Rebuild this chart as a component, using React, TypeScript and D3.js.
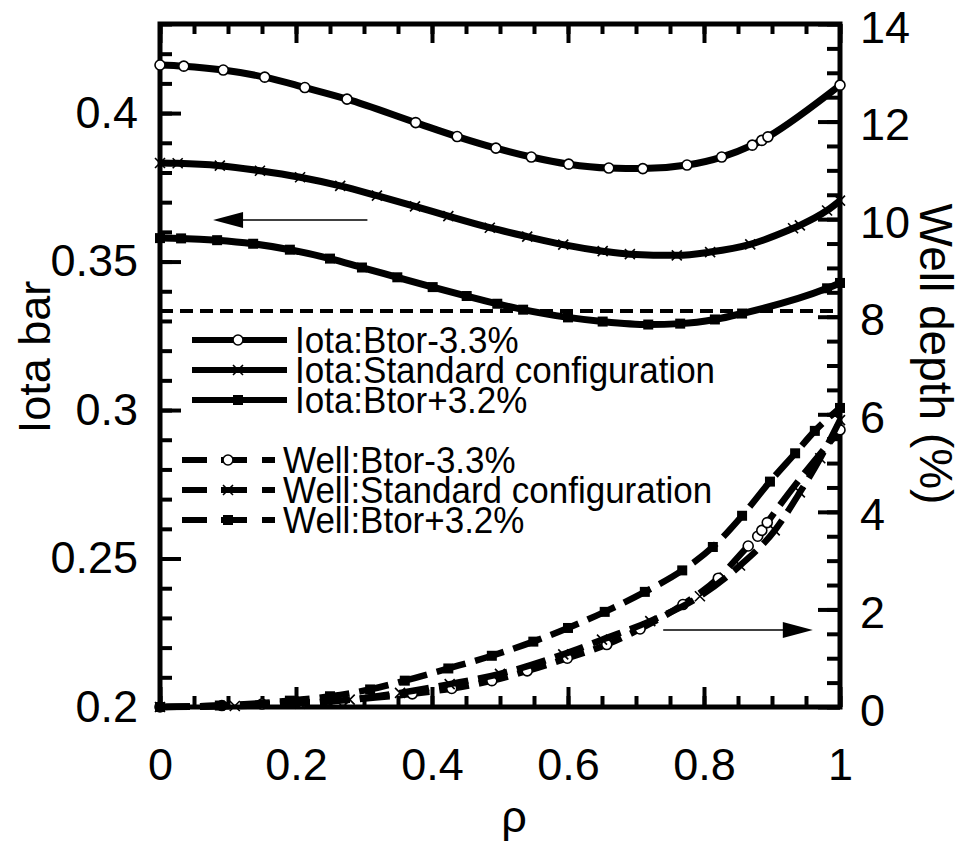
import React, { useEffect, useRef } from "react";
import * as d3 from "d3";

// ---- data ----
// iota (left axis)
const iotaMinusRho = [0, 0.035, 0.093, 0.154, 0.213, 0.275, 0.376, 0.437, 0.494, 0.546, 0.601, 0.66, 0.71, 0.775, 0.826, 0.871, 0.885, 0.894, 1.0];
const iotaMinusVal = [0.4162, 0.4158, 0.4145, 0.4121, 0.4086, 0.4047, 0.3968, 0.3921, 0.3882, 0.3852, 0.3828, 0.3815, 0.3813, 0.3825, 0.3852, 0.3892, 0.3908, 0.392, 0.4094];

const iotaStdRho = [0, 0.026, 0.088, 0.147, 0.206, 0.265, 0.319, 0.375, 0.424, 0.485, 0.54, 0.593, 0.651, 0.691, 0.76, 0.809, 0.868, 0.931, 0.941, 0.981, 1.0];
const iotaStdVal = [0.3832, 0.3831, 0.3823, 0.3806, 0.3784, 0.3755, 0.3722, 0.3686, 0.3653, 0.3614, 0.3584, 0.3557, 0.3535, 0.3525, 0.3521, 0.3532, 0.3558, 0.3612, 0.3622, 0.3672, 0.3705];

const iotaPlusRho = [0, 0.031, 0.084, 0.137, 0.191, 0.25, 0.297, 0.349, 0.401, 0.451, 0.496, 0.534, 0.6, 0.651, 0.718, 0.765, 0.816, 0.856, 0.981, 1.0];
const iotaPlusVal = [0.3579, 0.3578, 0.3572, 0.356, 0.354, 0.351, 0.348, 0.3447, 0.3414, 0.3384, 0.3358, 0.3338, 0.3312, 0.3298, 0.3288, 0.3291, 0.3305, 0.3325, 0.341, 0.3428];

// well depth % (right axis)
const wellMinusRho = [0, 0.091, 0.15, 0.209, 0.269, 0.371, 0.429, 0.488, 0.54, 0.599, 0.657, 0.706, 0.769, 0.821, 0.865, 0.879, 0.885, 0.893, 1.0];
const wellMinusVal = [0, 0.03, 0.06, 0.09, 0.14, 0.27, 0.38, 0.54, 0.74, 1.0, 1.28, 1.6, 2.1, 2.64, 3.3, 3.5, 3.62, 3.78, 5.68];

const wellStdRho = [0, 0.11, 0.206, 0.279, 0.353, 0.426, 0.5, 0.593, 0.65, 0.721, 0.794, 0.853, 0.904, 0.941, 0.971, 1.0];
const wellStdVal = [0, 0.02, 0.07, 0.15, 0.29, 0.47, 0.68, 1.08, 1.38, 1.76, 2.27, 2.9, 3.62, 4.4, 5.1, 5.88];

const wellPlusRho = [0, 0.088, 0.191, 0.25, 0.309, 0.36, 0.424, 0.488, 0.549, 0.6, 0.654, 0.713, 0.768, 0.813, 0.856, 0.897, 0.934, 0.963, 1.0];
const wellPlusVal = [0, 0.03, 0.13, 0.22, 0.36, 0.54, 0.79, 1.05, 1.34, 1.62, 1.95, 2.36, 2.8, 3.28, 3.92, 4.62, 5.2, 5.66, 6.13];

const rationalIota = 1 / 3;

const xTicks = [0, 0.2, 0.4, 0.6, 0.8, 1];
const leftTicks = [0.2, 0.25, 0.3, 0.35, 0.4];
const rightTicks = [0, 2, 4, 6, 8, 10, 12, 14];

const iotaLabels = ["Iota:Btor-3.3%", "Iota:Standard configuration", "Iota:Btor+3.2%"];
const wellLabels = ["Well:Btor-3.3%", "Well:Standard configuration", "Well:Btor+3.2%"];
const markerKinds = ["circle", "cross", "square"];

const FONT = "'Liberation Sans', Arial, Helvetica, sans-serif";

type Pt = [number, number];
const zip = (a: number[], b: number[]): Pt[] => a.map((v, i) => [v, b[i]]);

const App: React.FC = () => {
  const svgRef = useRef<SVGSVGElement | null>(null);

  useEffect(() => {
    if (!svgRef.current) return;
    const width = 963;
    const height = 848;
    const plot = { left: 160, right: 840, top: 24, bottom: 707 };

    const svg = d3.select(svgRef.current).attr("viewBox", `0 0 ${width} ${height}`);
    svg.selectAll("*").remove();

    const x = d3.scaleLinear().domain([0, 1]).range([plot.left, plot.right]);
    const yL = d3.scaleLinear().domain([0.2, 0.43]).range([plot.bottom, plot.top]);
    const yR = d3.scaleLinear().domain([0, 14]).range([plot.bottom, plot.top]);

    const g = svg.append("g");

    // ticks (inward) via d3 axes
    const styleAxis = (sel: d3.Selection<SVGGElement, unknown, null, undefined>) => {
      sel.select(".domain").remove();
      sel.selectAll("line").attr("stroke", "#000").attr("stroke-width", 4);
      sel.selectAll("text").attr("fill", "#000").style("font-family", FONT).style("font-size", "45px");
    };

    const minorX = d3.range(0, 1.0001, 0.05);
    const minorL = d3.range(0.2, 0.4301, 0.01);
    const minorR = d3.range(0, 14.001, 0.5);

    g.append("g").attr("transform", `translate(0,${plot.bottom})`)
      .call(d3.axisBottom(x).tickValues(minorX).tickSizeInner(-11).tickSizeOuter(0).tickFormat(() => ""))
      .call(styleAxis);
    g.append("g").attr("transform", `translate(0,${plot.bottom})`)
      .call(d3.axisBottom(x).tickValues(xTicks).tickSizeInner(-20).tickSizeOuter(0).tickPadding(41).tickFormat((d) => String(d)))
      .call(styleAxis);
    g.append("g").attr("transform", `translate(0,${plot.top})`)
      .call(d3.axisTop(x).tickValues(minorX).tickSizeInner(-10).tickSizeOuter(0).tickFormat(() => ""))
      .call(styleAxis);
    g.append("g").attr("transform", `translate(0,${plot.top})`)
      .call(d3.axisTop(x).tickValues(xTicks).tickSizeInner(-19).tickSizeOuter(0).tickFormat(() => ""))
      .call(styleAxis);

    g.append("g").attr("transform", `translate(${plot.left},0)`)
      .call(d3.axisLeft(yL).tickValues(minorL).tickSizeInner(-12).tickSizeOuter(0).tickFormat(() => ""))
      .call(styleAxis);
    g.append("g").attr("transform", `translate(${plot.left},0)`)
      .call(d3.axisLeft(yL).tickValues(leftTicks).tickSizeInner(-21).tickSizeOuter(0).tickPadding(22).tickFormat((d) => String(d)))
      .call(styleAxis);

    g.append("g").attr("transform", `translate(${plot.right},0)`)
      .call(d3.axisRight(yR).tickValues(minorR).tickSizeInner(-13).tickSizeOuter(0).tickFormat(() => ""))
      .call(styleAxis);
    g.append("g").attr("transform", `translate(${plot.right},0)`)
      .call(d3.axisRight(yR).tickValues(rightTicks).tickSizeInner(-22).tickSizeOuter(0).tickPadding(20).tickFormat((d) => String(d)))
      .call(styleAxis)
      .call((sel) => sel.selectAll("text").attr("dy", "0.4em"));

    // frame
    g.append("rect")
      .attr("x", plot.left).attr("y", plot.top)
      .attr("width", plot.right - plot.left).attr("height", plot.bottom - plot.top)
      .attr("fill", "none").attr("stroke", "#000").attr("stroke-width", 5);

    // iota = 1/3 reference
    g.append("line")
      .attr("x1", x(0)).attr("x2", x(1))
      .attr("y1", yL(rationalIota)).attr("y2", yL(rationalIota))
      .attr("stroke", "#000").attr("stroke-width", 4).attr("stroke-dasharray", "13 7");

    const drawMarker = (sel: d3.Selection<SVGGElement, unknown, null, undefined>, kind: string, cx: number, cy: number) => {
      if (kind === "circle") {
        sel.append("circle").attr("cx", cx).attr("cy", cy).attr("r", 5)
          .attr("fill", "#fff").attr("stroke", "#000").attr("stroke-width", 1.6);
      } else if (kind === "square") {
        sel.append("rect").attr("x", cx - 5).attr("y", cy - 5).attr("width", 10).attr("height", 10).attr("fill", "#000");
      } else {
        const s = 5;
        sel.append("path")
          .attr("d", `M${cx - s},${cy - s}L${cx + s},${cy + s}M${cx - s},${cy + s}L${cx + s},${cy - s}`)
          .attr("stroke", "#000").attr("stroke-width", 1.6);
      }
    };

    const iotaSeries = [zip(iotaMinusRho, iotaMinusVal), zip(iotaStdRho, iotaStdVal), zip(iotaPlusRho, iotaPlusVal)];
    const wellSeries = [zip(wellMinusRho, wellMinusVal), zip(wellStdRho, wellStdVal), zip(wellPlusRho, wellPlusVal)];

    const lineL = d3.line<Pt>().x((d) => x(d[0])).y((d) => yL(d[1])).curve(d3.curveMonotoneX);
    const lineR = d3.line<Pt>().x((d) => x(d[0])).y((d) => yR(d[1])).curve(d3.curveMonotoneX);

    wellSeries.forEach((pts, i) => {
      g.append("path").datum(pts).attr("d", lineR)
        .attr("fill", "none").attr("stroke", "#000").attr("stroke-width", 6.5)
        .attr("stroke-dasharray", "30 10");
      const mg = g.append("g");
      pts.forEach((p) => drawMarker(mg, markerKinds[i], x(p[0]), yR(p[1])));
    });

    iotaSeries.forEach((pts, i) => {
      g.append("path").datum(pts).attr("d", lineL)
        .attr("fill", "none").attr("stroke", "#000").attr("stroke-width", 7);
      const mg = g.append("g");
      pts.forEach((p) => drawMarker(mg, markerKinds[i], x(p[0]), yL(p[1])));
    });

    // arrows
    const arrow = (x1: number, x2: number, yy: number) => {
      const dir = Math.sign(x2 - x1);
      g.append("line").attr("x1", x1).attr("x2", x2 - dir * 20).attr("y1", yy).attr("y2", yy)
        .attr("stroke", "#000").attr("stroke-width", 1.5);
      g.append("path")
        .attr("d", `M${x2},${yy}L${x2 - dir * 30},${yy - 8}L${x2 - dir * 30},${yy + 8}Z`)
        .attr("fill", "#000");
    };
    arrow(x(0.305), x(0.078), yL(0.364));
    arrow(x(0.74), x(0.96), yR(1.58));

    // legend
    const leg = svg.append("g").style("font-family", FONT).style("font-size", "35px");
    iotaLabels.forEach((lab, i) => {
      const base = 353 + i * 30;
      const cy = base - 13;
      leg.append("line").attr("x1", 192).attr("x2", 287).attr("y1", cy).attr("y2", cy)
        .attr("stroke", "#000").attr("stroke-width", 6);
      drawMarker(leg, markerKinds[i], 238, cy);
      leg.append("text").attr("transform", `translate(295,${base}) scale(1,1.08)`).text(lab);
    });
    wellLabels.forEach((lab, i) => {
      const base = 473 + i * 30;
      const cy = base - 13;
      leg.append("line").attr("x1", 182).attr("x2", 275).attr("y1", cy).attr("y2", cy)
        .attr("stroke", "#000").attr("stroke-width", 6).attr("stroke-dasharray", "25 14 26 15 13");
      drawMarker(leg, markerKinds[i], 228, cy);
      leg.append("text").attr("transform", `translate(283,${base}) scale(1,1.08)`).text(lab);
    });

    // axis titles
    svg.append("text")
      .attr("transform", `translate(50,${357}) rotate(-90)`)
      .attr("text-anchor", "middle")
      .style("font-family", FONT).style("font-size", "45px")
      .text("Iota bar");
    svg.append("text")
      .attr("transform", `translate(920,${354}) rotate(90)`)
      .attr("text-anchor", "middle")
      .style("font-family", FONT).style("font-size", "46px")
      .text("Well depth (%)");
    svg.append("text")
      .attr("x", 514).attr("y", 832)
      .attr("text-anchor", "middle")
      .style("font-family", FONT).style("font-size", "45px")
      .text("ρ");
  }, []);

  return (
    <svg
      ref={svgRef}
      width={963}
      height={848}
      style={{ position: "absolute", left: 0, top: 0, background: "#fff" }}
    ></svg>
  );
};

export default App;
